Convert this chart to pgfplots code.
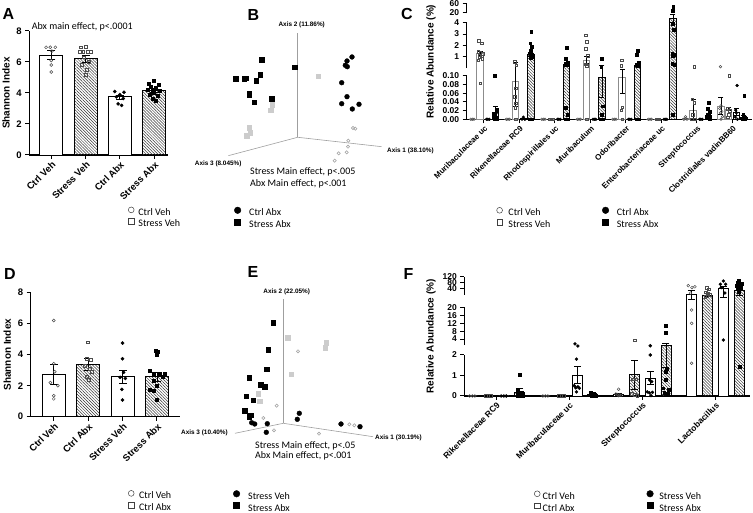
\documentclass[border=0pt]{standalone}
\usepackage{fontspec}
\setmainfont{Liberation Sans}
\newfontfamily\calib{Carlito}
\usepackage{pgfplots}
\pgfplotsset{compat=1.18}
\usetikzlibrary{patterns.meta}

\tikzset{
 hatch/.style={pattern={Lines[angle=-45,distance=2.1pt,line width=0.5pt]}, pattern color=black!80},
 barw/.style={fill=white, draw=black, line width=0.8pt},
 barg/.style={fill=white, draw=black!45, line width=0.8pt},
 barh/.style={draw=black, line width=0.8pt, hatch},
 pOc/.style={only marks, mark=o, mark size=1.5pt, mark options={draw=black!70, line width=0.5pt}},
 pOs/.style={only marks, mark=square, mark size=1.4pt, mark options={draw=black!70, line width=0.5pt}},
 pFc/.style={only marks, mark=*, mark size=1.6pt, mark options={fill=black, draw=black}},
 pFs/.style={only marks, mark=square*, mark size=1.5pt, mark options={fill=black, draw=black}},
 ebar/.style={black, line width=0.8pt, mark=-, mark options={line width=0.8pt}},
 lopen/.style={only marks, mark=o, mark size=2.9pt, mark options={draw=black!75, line width=0.5pt}},
 lsq/.style={only marks, mark=square, mark size=2.8pt, mark options={draw=black!75, line width=0.5pt}},
 lfc/.style={only marks, mark=*, mark size=3.3pt, mark options={fill=black, draw=black}},
 lfs/.style={only marks, mark=square*, mark size=3pt, mark options={fill=black, draw=black}},
}
\newcommand\eb[4][4pt]{\addplot[ebar, mark size=#1, forget plot] coordinates {(#2,#3) (#2,#4)};}

\pgfplotsset{
 gp/.style={axis x line*=bottom, axis y line*=left, axis line style={line width=1.1pt},
   every tick/.style={black, line width=1pt}, tick align=outside, major tick length=4pt,
   enlargelimits=false, clip=false, /pgf/number format/assume math mode=true,
   xticklabel style={rotate=45, anchor=north east, inner sep=1pt},
   tick label style={font=\bfseries\fontsize{9.5}{10}\selectfont},
   ylabel style={font=\bfseries\fontsize{10}{11}\selectfont}},
 pageax/.style={hide axis, x=1pt, y=1pt, xmin=0, xmax=753, ymin=0, ymax=513,
   anchor=south west, at={(0pt,0pt)}, clip=false,
   legend image code/.code={\draw[##1] plot coordinates {(0pt,3pt)};},
   legend style={draw=none, fill=none, inner sep=0pt, outer sep=0pt, anchor=north west,
     font=\calib\fontsize{10}{12}\selectfont, row sep=1.3pt,
     nodes={inner sep=0pt, text height=7pt, text depth=2pt}},
   legend cell align=left},
 ctrafo/.style={y coord trafo/.code={\pgfmathparse{433*min(##1,0.1)+465*(min(max(##1,0.1),0.12)-0.1)+11.34*(min(max(##1,0.12),4)-0.12)+0.625*(min(max(##1,4),20)-4)+0.2175*(max(##1,20)-20)}}},
 ftrafo/.style={y coord trafo/.code={\pgfmathparse{20.5*min(##1,2)+14*(min(max(##1,2),3)-2)+1.982*(min(max(##1,3),20)-3)+0.95*(min(max(##1,20),40)-20)+0.145*(max(##1,40)-40)}}},
}

\begin{document}
\begin{tikzpicture}
\useasboundingbox (0pt,0pt) rectangle (753pt,513pt);

% ---------------- Panel A ----------------
\begin{axis}[gp, at={(29.3pt,358pt)}, anchor=south west, x=34.3pt, y=15.5pt,
  xmin=-0.64, xmax=3.41, ymin=0, ymax=8, xtick={0,1,2,3},
  xticklabels={Ctrl Veh, Stress Veh, Ctrl Abx, Stress Abx}, ytick={0,2,4,6,8},
  ylabel={Shannon Index}]
\addplot[ybar, bar width=23pt, barw] coordinates {(0,6.45) (2,3.75)};
\addplot[ybar, bar width=23pt, barh] coordinates {(1,6.2) (3,4.15)};
\eb{0}{6.17}{6.73}\eb{1}{6.0}{6.4}\eb{2}{3.6}{3.85}\eb{3}{4.03}{4.27}
\addplot[pOc] coordinates {(-0.15,6.95)(-0.03,6.95)(0.12,6.95)(0.02,6.7)(0.0,6.1)(0.0,5.8)(0.0,5.35)};
\addplot[pOs] coordinates {(0.85,6.95)(1.0,6.98)(0.83,6.65)(0.93,6.65)(1.07,6.65)(1.15,6.65)(0.95,6.3)(1.1,6.0)(0.9,5.8)(1.03,5.5)(1.0,5.2)};
\addplot[pFc] coordinates {(1.85,4.1)(2.12,4.05)(2.0,3.9)(1.9,3.75)(2.1,3.65)(1.95,3.3)(2.05,3.2)};
\addplot[pFs] coordinates {(3.0,4.8)(2.85,4.6)(3.12,4.55)(2.9,4.4)(3.05,4.35)(2.8,4.2)(2.95,4.2)(3.15,4.15)(3.0,4.05)(2.87,3.9)(3.1,3.85)(2.95,3.6)(3.05,3.5)};
\end{axis}

% ---------------- Panel D ----------------
\begin{axis}[gp, at={(30.7pt,96.3pt)}, anchor=south west, x=34.4pt, y=15.5pt,
  xmin=-0.67, xmax=3.67, ymin=0, ymax=8, xtick={0,1,2,3},
  xticklabels={Ctrl Veh, Ctrl Abx, Stress Veh, Stress Abx}, ytick={0,2,4,6,8},
  ylabel={Shannon Index}]
\addplot[ybar, bar width=23pt, barw] coordinates {(0,2.75) (2,2.58)};
\addplot[ybar, bar width=23pt, barh] coordinates {(1,3.35) (3,2.58)};
\eb{0}{2.1}{3.4}\eb{1}{2.97}{3.73}\eb{2}{2.16}{3.0}\eb{3}{2.3}{2.86}
\addplot[pOc] coordinates {(0,6.2)(0,3.42)(0.03,2.9)(-0.1,2.2)(0.12,2.0)(0,1.35)(0,1.15)};
\addplot[pOs] coordinates {(1.0,4.8)(0.95,3.75)(1.08,3.65)(0.9,3.3)(1.05,3.1)(1.1,2.9)(0.95,2.6)(1.02,2.4)};
\addplot[pFc] coordinates {(2.0,4.75)(2.0,3.74)(2.03,2.86)(1.93,2.54)(2.08,2.47)(1.98,1.76)(2.0,1.08)};
\addplot[pFs] coordinates {(2.97,4.26)(3.03,4.2)(3.0,3.98)(2.79,2.95)(2.92,2.8)(3.07,2.8)(3.23,2.8)(3.16,2.58)(2.9,2.3)(3.0,2.0)(2.78,1.76)(2.92,1.68)(3.0,1.08)};
\end{axis}

% ---------------- Panel C ----------------
\begin{axis}[gp, ctrafo, at={(466.7pt,393.7pt)}, anchor=south west, x=35.5pt, y=1pt,
  xmin=-0.487, xmax=7.55, ymin=0, ymax=60, xtick={0,...,7},
  xticklabels={Muribaculaceae uc, Rikenellaceae RC9, Rhodospirillales uc, Muribaculum, Odoribacter, Enterobacteriaceae uc, Streptococcus, Clostridiales vadinBB60},
  ytick={0,0.02,0.04,0.06,0.08,0.1,1,2,3,4,20,60},
  yticklabels={0.00,0.02,0.04,0.06,0.08,0.10,1,2,3,4,20,60},
  y axis line style={draw=none},
  xticklabel style={font=\bfseries\fontsize{8}{9}\selectfont},
  yticklabel style={font=\bfseries\fontsize{8.5}{9}\selectfont},
  ylabel={Relative Abundance (\%)}]
\addplot[black, line width=1.1pt, forget plot] coordinates {(-0.487,0) (-0.487,0.1)};
\addplot[black, line width=1.1pt, forget plot] coordinates {(-0.487,0.117) (-0.487,4)};
\addplot[black, line width=1.1pt, forget plot] coordinates {(-0.487,19) (-0.487,60)};
\addplot[ybar, bar width=6.5pt, bar shift=-11.5pt, barg] coordinates {(0,0)(1,0)(2,0)(3,0)(4,0)(5,0)(6,0.003)(7,0.03)};
\addplot[ybar, bar width=6.5pt, bar shift=-3.85pt, barg] coordinates {(0,1.3)(1,0.0885)(2,0)(3,0.69)(4,0.097)(5,0)(6,0.021)(7,0.024)};
\addplot[ybar, bar width=6.5pt, bar shift=3.85pt, barw] coordinates {(0,0)(1,0.003)(2,0)(3,0)(4,0)(5,0)(6,0)(7,0.017)};
\addplot[ybar, bar width=6.5pt, bar shift=11.5pt, barh] coordinates {(0,0.016)(1,1.2)(2,0.33)(3,0.096)(4,0.24)(5,11)(6,0.008)(7,0.004)};
\eb[2.5pt]{6.676}{0.012}{0.05}
\eb[2.5pt]{-0.108}{1.15}{1.45}\eb[2.5pt]{0.892}{0.03}{0.5}\eb[2.5pt]{2.892}{0.4}{0.99}\eb[2.5pt]{3.892}{0.06}{0.115}\eb[2.5pt]{5.892}{0.0}{0.045}\eb[2.5pt]{6.892}{0.02}{0.028}
\eb[2.5pt]{7.108}{0.01}{0.025}
\eb[2.5pt]{0.324}{0.005}{0.029}\eb[2.5pt]{1.324}{1.05}{1.35}\eb[2.5pt]{3.324}{0.05}{0.27}\eb[2.5pt]{5.324}{4}{18}\eb[2.5pt]{6.324}{0.002}{0.02}\eb[2.5pt]{7.324}{0.001}{0.008}
\addplot[pOc, mark size=1.3pt] coordinates {(-0.37,0)(-0.324,0)(-0.28,0)(0.63,0)(0.676,0)(0.72,0)(1.63,0)(1.676,0)(1.72,0)(2.63,0)(2.676,0)(2.72,0)(3.63,0)(3.676,0)(3.72,0)(4.63,0)(4.676,0)(4.72,0)(5.676,0.006)(5.63,0)(5.72,0)(5.676,0.002)(6.66,0.12)(6.676,0.031)(6.64,0.025)(6.70,0.018)(6.66,0.015)(6.72,0.006)(6.676,0)};
\addplot[pOs, mark size=1.25pt] coordinates {(-0.15,2.4)(-0.06,2.2)(-0.16,1.45)(-0.1,1.35)(-0.04,1.25)(-0.14,1.15)(-0.07,1.05)(-0.12,0.95)(-0.05,0.8)(-0.16,0.7)(-0.1,0.083)
 (0.86,0.55)(0.91,0.25)(0.89,0.072)(0.87,0.052)(0.9,0.037)(0.88,0.027)(0.892,0)
 (1.85,0)(1.892,0)(1.93,0)
 (2.86,2.9)(2.9,2.3)(2.87,1.7)(2.92,1.1)(2.86,0.35)(2.9,0.2)(2.892,0)
 (3.88,0.69)(3.87,0.19)(3.9,0.028)(3.86,0.021)(3.892,0)
 (4.85,0)(4.892,0)(4.93,0)
 (5.92,0.12)(5.86,0.046)(5.92,0.038)(5.88,0.01)(5.85,0)(5.93,0)
 (6.91,0.1)(6.87,0.024)(6.92,0.02)(6.89,0.01)(6.86,0.005)};
\addplot[pFc, mark size=1.4pt] coordinates {(0.07,0)(0.108,0)(0.15,0)(1.07,0)(1.108,0.005)(1.15,0)(2.07,0)(2.108,0)(2.15,0)(3.07,0)(3.108,0)(3.15,0)(4.07,0)(4.108,0)(4.15,0)(5.07,0)(5.108,0)(5.15,0)(6.07,0)(6.108,0)(6.15,0)
 (7.13,0.078)(7.09,0.021)(7.11,0.015)(7.08,0.005)(7.14,0)};
\addplot[pFs, mark size=1.35pt] coordinates {(0.3,0.1)(0.35,0.022)(0.31,0.01)(0.34,0.005)(0.29,0)(0.324,0)(0.36,0)
 (1.33,3.2)(1.3,2.2)(1.35,1.9)(1.32,1.5)(1.29,1.3)(1.36,1.2)(1.31,1.1)(1.34,1.05)(1.3,1.0)(1.35,0.95)(1.32,0.9)(1.29,0)(1.36,0)
 (2.32,1.8)(2.3,0.85)(2.35,0.5)(2.29,0.4)(2.33,0.35)(2.36,0.3)(2.3,0.3)(2.34,0.28)(2.31,0.027)(2.35,0.01)(2.29,0)(2.36,0)
 (3.32,0.85)(3.3,0.12)(3.35,0.03)(3.31,0.01)(3.29,0)(3.36,0)
 (4.33,1.55)(4.31,1.15)(4.35,0.45)(4.3,0.35)(4.34,0.3)(4.29,0.25)(4.36,0.22)(4.32,0.2)(4.29,0)(4.324,0)(4.36,0)
 (5.33,47)(5.32,28)(5.31,3.9)(5.34,3.4)(5.3,1.3)(5.35,1.15)(5.32,1.1)(5.3,0.4)(5.34,0.35)(5.36,0.3)(5.32,0.01)
 (6.32,0.038)(6.3,0.025)(6.35,0.017)(6.31,0.01)(6.34,0.008)(6.29,0.005)(6.36,0)
 (7.33,0.055)(7.3,0.01)(7.35,0.005)(7.31,0.003)(7.29,0)(7.36,0)};
\end{axis}

% ---------------- Panel F ----------------
\begin{axis}[gp, ftrafo, at={(464.3pt,117pt)}, anchor=south west, x=73.1pt, y=1pt,
  xmin=-0.434, xmax=3.475, ymin=0, ymax=120, xtick={0,1,2,3},
  xticklabels={Rikenellaceae RC9, Muribaculaceae uc, Streptococcus, Lactobacillus},
  ytick={0,1,2,4,8,12,16,20,40,80,120},
  yticklabels={0,1,2,4,8,12,16,20,40,80,120},
  y axis line style={draw=none},
  xticklabel style={font=\bfseries\fontsize{8.5}{9}\selectfont},
  yticklabel style={font=\bfseries\fontsize{8.5}{9}\selectfont},
  ylabel={Relative Abundance (\%)}]
\addplot[black, line width=1.1pt, forget plot] coordinates {(-0.434,0) (-0.434,2)};
\addplot[black, line width=1.1pt, forget plot] coordinates {(-0.434,2.7) (-0.434,20)};
\addplot[black, line width=1.1pt, forget plot] coordinates {(-0.434,33) (-0.434,120)};
\addplot[ybar, bar width=10pt, bar shift=-23.7pt, barw] coordinates {(0,0)(1,0)(2,0.08)(3,34)};
\addplot[ybar, bar width=10pt, bar shift=-7.9pt, barh] coordinates {(0,0)(1,0)(2,1.06)(3,33)};
\addplot[ybar, bar width=10pt, bar shift=7.9pt, barw] coordinates {(0,0)(1,1.02)(2,0.86)(3,40)};
\addplot[ybar, bar width=10pt, bar shift=23.7pt, barh] coordinates {(0,0.16)(1,0.07)(2,2.66)(3,38)};
\eb[3.5pt]{1.676}{0.03}{0.13}\eb[3.5pt]{2.676}{28}{38}
\eb[3.5pt]{1.892}{0.34}{1.76}\eb[3.5pt]{2.892}{31}{35}
\eb[3.5pt]{1.108}{0.6}{1.45}\eb[3.5pt]{2.108}{0.55}{1.19}\eb[3.5pt]{3.108}{30}{56}
\eb[3.5pt]{0.324}{0.05}{0.37}\eb[3.5pt]{1.324}{0.04}{0.1}\eb[3.5pt]{2.324}{1.4}{2.8}\eb[3.5pt]{3.324}{33}{45}
\addplot[pOc, mark size=1.4pt] coordinates {(-0.36,0)(-0.324,0)(-0.29,0)(0.64,0)(0.676,0)(0.71,0)
 (1.676,0.33)(1.64,0.1)(1.66,0.07)(1.69,0.05)(1.71,0.04)(1.676,0.02)
 (2.63,58)(2.72,50)(2.68,45)(2.66,35)(2.676,18.6)(2.676,11.9)(2.676,1.6)};
\addplot[pOs, mark size=1.3pt] coordinates {(-0.14,0)(-0.108,0)(-0.07,0)(0.86,0)(0.892,0)(0.93,0)
 (1.9,3.35)(1.87,0.81)(1.92,0.81)(1.86,0.1)(1.9,0.05)(1.93,0.02)
 (2.88,42)(2.91,39)(2.87,36)(2.9,34)(2.92,33)(2.89,32)(2.86,31)};
\addplot[pFc, mark size=1.5pt] coordinates {(0.07,0)(0.108,0)(0.14,0)
 (1.08,2.79)(1.12,2.64)(1.1,1.8)(1.07,0.5)(1.12,0.45)(1.09,0.4)(1.14,0.38)(1.1,0.2)
 (2.11,2.66)(2.11,2.0)(2.1,0.78)(2.13,0.7)(2.07,0.2)(2.14,0.18)(2.1,0.15)(2.12,0.02)
 (3.11,90)(3.07,68)(3.14,68)(3.08,45)(3.13,35)(3.11,3.5)};
\addplot[pFs, mark size=1.4pt] coordinates {(0.32,1.02)(0.3,0.3)(0.35,0.15)(0.29,0.1)(0.34,0.08)(0.31,0.05)(0.36,0.05)(0.3,0.02)(0.33,0)(0.36,0)
 (1.3,0.15)(1.34,0.12)(1.32,0.1)(1.29,0.08)(1.35,0.05)(1.31,0.03)(1.36,0.02)(1.33,0)
 (2.32,10.6)(2.32,7.2)(2.33,1.35)(2.32,1.19)(2.32,0.78)(2.28,0.38)(2.36,0.3)(2.3,0.15)(2.35,0.1)
 (3.32,90)(3.3,80)(3.34,75)(3.36,70)(3.29,60)(3.33,55)(3.31,50)(3.35,45)(3.3,42)(3.34,40)(3.32,36)(3.33,1.43)};
\end{axis}

% ---------------- Panel B (PCoA, page coordinates) ----------------
\begin{axis}[pageax, legend style={at={(0.3112,0.5965)}, /tikz/column 1/.style={column sep=8.3pt}}]
\addlegendimage{lfc}\addlegendentry{Ctrl Abx}
\addlegendimage{lfs}\addlegendentry{Stress Abx}
\addplot[gray!75, line width=0.6pt, forget plot] coordinates {(297.7,375.7)(297.7,479.7)};
\addplot[gray!75, line width=0.6pt, forget plot] coordinates {(297.7,375.7)(381.7,366.3)};
\addplot[gray!75, line width=0.6pt, forget plot] coordinates {(297.7,375.7)(228.3,357.3)};
\addplot[only marks, mark=square*, mark size=2.3pt, mark options={fill=gray!40, draw=gray!40}, forget plot] coordinates {(318.3,436.7)(272.3,408.3)(270.7,402.7)(249.3,385)(250,380.3)(246.7,377.3)};
\addplot[only marks, mark=square*, mark size=2.3pt, mark options={fill=black}, forget plot] coordinates {(261.7,453)(294.7,445.7)(260,438)(235.7,434.3)(244.3,434)(246.3,434.7)(256,432)(249,419.7)(249.3,418)(271.7,414)(254,410.7)};
\addplot[only marks, mark=*, mark size=2.4pt, mark options={fill=black}, forget plot] coordinates {(352,456)(347,452)(345.3,447.7)(347.3,446.3)(341.7,430.3)(347,416.3)(341.7,409.3)(352.3,404)(359,408.7)};
\addplot[only marks, mark=o, mark size=1.6pt, mark options={draw=gray!70, line width=0.6pt}, forget plot] coordinates {(353,385)(355.3,384.3)(348.3,372.3)(348,366.3)(346.7,360.7)(338.7,359.7)(334.7,352.3)};
\end{axis}

% ---------------- Panel E (PCoA, page coordinates) ----------------
\begin{axis}[pageax, legend style={at={(0.3098,0.0439)}, /tikz/column 1/.style={column sep=8.3pt}}]
\addlegendimage{lfc}\addlegendentry{Stress Veh}
\addlegendimage{lfs}\addlegendentry{Stress Abx}
\addplot[gray!75, line width=0.6pt, forget plot] coordinates {(283.3,89.7)(283.3,213.7)};
\addplot[gray!75, line width=0.6pt, forget plot] coordinates {(283.3,89.7)(373,76.3)};
\addplot[gray!75, line width=0.6pt, forget plot] coordinates {(283.3,89.7)(235,79.7)};
\addplot[only marks, mark=square*, mark size=2.3pt, mark options={fill=gray!40, draw=gray!40}, forget plot] coordinates {(287.7,175)(326,170)(325.3,165)(291,138.7)(258.3,119.3)(259.7,111.7)};
\addplot[only marks, mark=square*, mark size=2.3pt, mark options={fill=black}, forget plot] coordinates {(273,190.3)(268,163)(266.7,143.7)(249,135)(260.7,128.3)(264.7,126.3)(246,116.7)(253,112.7)(244.7,102.3)(250.7,97.7)(249,96.3)};
\addplot[only marks, mark=*, mark size=2.4pt, mark options={fill=black}, forget plot] coordinates {(251.7,90.3)(254.7,89)(267.3,89.3)(266.3,80.7)(299.3,99.7)(297.3,93.7)(341,89)(360,86.3)};
\addplot[only marks, mark=o, mark size=1.6pt, mark options={draw=gray!70, line width=0.6pt}, forget plot] coordinates {(298,161.7)(276.7,107.3)(263.3,95)(274,82.7)(319,79.3)(349.3,88.7)(354.3,87.7)};
\end{axis}

% ---------------- Legends for A, C, D, F ----------------
\begin{axis}[pageax, legend style={at={(0.1704,0.5965)}, /tikz/column 1/.style={column sep=4.3pt}}]
\addlegendimage{lopen}\addlegendentry{Ctrl Veh}
\addlegendimage{lsq}\addlegendentry{Stress Veh}
\end{axis}
\begin{axis}[pageax, legend columns=2, transpose legend, legend style={at={(0.6596,0.5965)}, /tikz/column 1/.style={column sep=6pt}, /tikz/column 2/.style={column sep=52pt}, /tikz/column 3/.style={column sep=8pt}}]
\addlegendimage{lopen}\addlegendentry{Ctrl Veh}
\addlegendimage{lsq}\addlegendentry{Stress Veh}
\addlegendimage{lfc}\addlegendentry{Ctrl Abx}
\addlegendimage{lfs}\addlegendentry{Stress Abx}
\end{axis}
\begin{axis}[pageax, legend style={at={(0.1704,0.0439)}, /tikz/column 1/.style={column sep=5pt}}]
\addlegendimage{lopen}\addlegendentry{Ctrl Veh}
\addlegendimage{lsq}\addlegendentry{Ctrl Abx}
\end{axis}
\begin{axis}[pageax, legend columns=2, transpose legend, legend style={at={(0.7096,0.0439)}, /tikz/column 1/.style={column sep=2.5pt}, /tikz/column 2/.style={column sep=72pt}, /tikz/column 3/.style={column sep=6pt}}]
\addlegendimage{lopen}\addlegendentry{Ctrl Veh}
\addlegendimage{lsq}\addlegendentry{Ctrl Abx}
\addlegendimage{lfc}\addlegendentry{Stress Veh}
\addlegendimage{lfs}\addlegendentry{Stress Abx}
\end{axis}

% ---------------- Texts ----------------
\begin{scope}[every node/.style={inner sep=0pt}]
\node[font=\bfseries\fontsize{16}{16}\selectfont] at (8.3pt,498.5pt) {A};
\node[font=\bfseries\fontsize{16}{16}\selectfont] at (253.3pt,498pt) {B};
\node[font=\bfseries\fontsize{16}{16}\selectfont] at (407pt,499pt) {C};
\node[font=\bfseries\fontsize{16}{16}\selectfont] at (10pt,238.5pt) {D};
\node[font=\bfseries\fontsize{16}{16}\selectfont] at (253pt,241pt) {E};
\node[font=\bfseries\fontsize{16}{16}\selectfont] at (408.5pt,238.5pt) {F};
\node[font=\calib\fontsize{10}{12}\selectfont, anchor=west] at (31.7pt,486.3pt) {Abx main effect, p<.0001};
\node[font=\calib\fontsize{10}{12}\selectfont, anchor=west] at (250pt,341.3pt) {Stress Main effect, p<.005};
\node[font=\calib\fontsize{10}{12}\selectfont, anchor=west] at (250pt,329.3pt) {Abx Main effect, p<.001};
\node[font=\calib\fontsize{10}{12}\selectfont, anchor=west] at (255pt,67.3pt) {Stress Main effect, p<.05};
\node[font=\calib\fontsize{10}{12}\selectfont, anchor=west] at (255pt,57pt) {Abx Main effect, p<.001};
\node[font=\bfseries\fontsize{6.4}{7}\selectfont] at (301.7pt,488pt) {Axis 2 (11.86\%)};
\node[font=\bfseries\fontsize{6.4}{7}\selectfont, anchor=west] at (387pt,362pt) {Axis 1 (38.10\%)};
\node[font=\bfseries\fontsize{6.4}{7}\selectfont, anchor=east] at (241.7pt,348.7pt) {Axis 3 (8.045\%)};
\node[font=\bfseries\fontsize{6.4}{7}\selectfont] at (286.7pt,221pt) {Axis 2 (22.05\%)};
\node[font=\bfseries\fontsize{6.4}{7}\selectfont, anchor=west] at (375pt,74.7pt) {Axis 1 (30.19\%)};
\node[font=\bfseries\fontsize{6.4}{7}\selectfont, anchor=east] at (228pt,79.7pt) {Axis 3 (10.40\%)};
\end{scope}
\end{tikzpicture}
\end{document}
